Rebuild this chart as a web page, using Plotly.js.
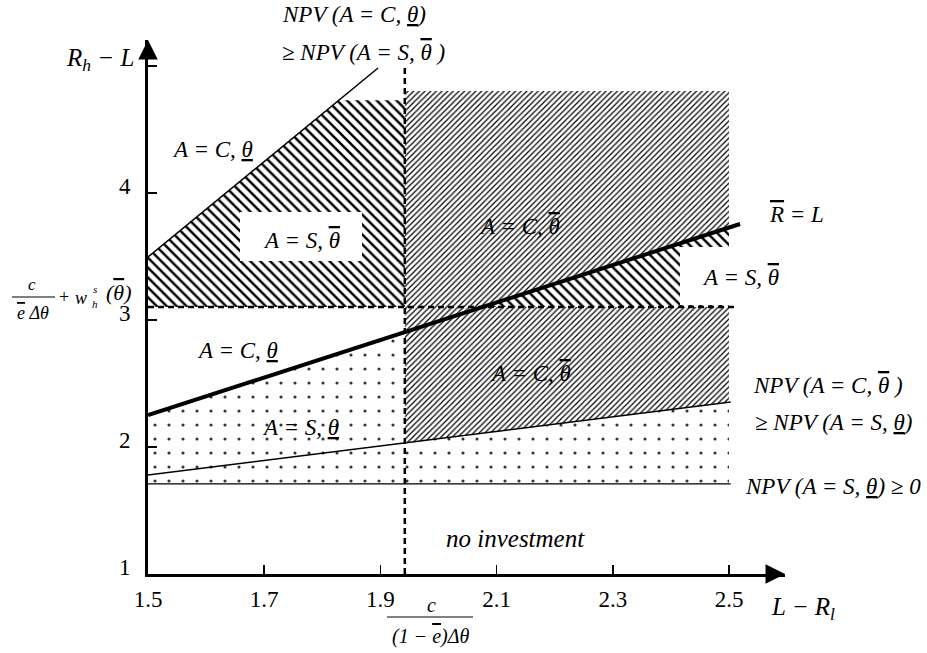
<!DOCTYPE html>
<html><head><meta charset="utf-8">
<script src="https://cdn.plot.ly/plotly-3.0.1.min.js"></script>
<style>html,body{margin:0;padding:0;background:#fff}</style>
</head><body>
<div id="chart" style="width:927px;height:653px"></div>
<script>
// ---- data ----
const xTicks = [1.5, 1.7, 1.9, 2.1, 2.3, 2.5];
const xTickText = ['1.5', '1.7', '1.9', '2.1', '2.3', '2.5'];
const yTicks = [1, 2, 3, 4, 5];
const yTickText = ['1', '2', '3', '4', ''];
// boundary lines
const rBarX = [1.5, 2.519];          // R̄ = L (thick)
const rBarY = [2.252, 3.756];
const npvCbarX = [1.5, 2.503];       // NPV(C,θ̄) ≥ NPV(S,θ̲)
const npvCbarY = [1.78, 2.354];
const npvS0X = [1.5, 2.503];         // NPV(S,θ̲) ≥ 0
const npvS0Y = [1.709, 1.709];
const npvCthX = [1.5, 1.896];        // NPV(C,θ̲) ≥ NPV(S,θ̄)
const npvCthY = [3.496, 4.984];
// thresholds
const xCut = [1.942];                // c/((1-ē)Δθ)
const yCut = [3.102];                // c/(ēΔθ)+w_h^s(θ̄)
const vDashTop = [4.984];
const hDashEnd = [2.514];
const regionRight = [2.5];
const fineTop = [4.803];
const coarseTop = [4.73];

// ---- helpers ----
function lin(xs, ys, x) { return ys[0] + (ys[1] - ys[0]) * (x - xs[0]) / (xs[1] - xs[0]); }
function invLin(xs, ys, y) { return xs[0] + (y - ys[0]) * (xs[1] - xs[0]) / (ys[1] - ys[0]); }
const xc = xCut[0], yc = yCut[0], xr = regionRight[0];

// regions
const fineX = [xc, xr, xr, xc];
const fineY = [fineTop[0], fineTop[0], lin(npvCbarX, npvCbarY, xr), lin(npvCbarX, npvCbarY, xc)];

const xTopLeft = invLin(npvCthX, npvCthY, coarseTop[0]);
const coarseLX = [npvCthX[0], npvCthX[0], xTopLeft, xc, xc];
const coarseLY = [yc, npvCthY[0], coarseTop[0], coarseTop[0], yc];

const xCross = invLin(rBarX, rBarY, yc);
const coarseRX = [xCross, xr, xr];
const coarseRY = [yc, lin(rBarX, rBarY, xr), yc];

const dotX = [rBarX[0], rBarX[0], xc, xc, xr, xr];
const dotY = [npvS0Y[0], rBarY[0], lin(rBarX, rBarY, xc), lin(npvCbarX, npvCbarY, xc), lin(npvCbarX, npvCbarY, xr), npvS0Y[0]];

// ---- geometry of plot area (pixels) ----
const L = 148, R = 785, T = 40, B = 574;
const xRange = [1.5, 1.5 + (R - L) / 581];
const yRange = [1, 1 + (B - T) / 127];
const px = p => (p - L) / (R - L);
const py = p => (B - p) / (B - T);

const traces = [
  {x: dotX, y: dotY, type: 'scatter', mode: 'lines', fill: 'toself', line: {width: 0},
   fillcolor: 'rgba(0,0,0,0)', fillpattern: {shape: '.', size: 14, solidity: 0.04, fgcolor: '#333', bgcolor: 'white'}, hoverinfo: 'skip'},
  {x: fineX, y: fineY, type: 'scatter', mode: 'lines', fill: 'toself', line: {width: 0},
   fillcolor: 'rgba(0,0,0,0)', fillpattern: {shape: '/', size: 4, solidity: 0.3, fgcolor: '#000', bgcolor: 'white'}, hoverinfo: 'skip'},
  {x: coarseLX, y: coarseLY, type: 'scatter', mode: 'lines', fill: 'toself', line: {width: 0},
   fillcolor: 'rgba(0,0,0,0)', fillpattern: {shape: '\\', size: 7, solidity: 0.35, fgcolor: '#000', bgcolor: 'white'}, hoverinfo: 'skip'},
  {x: coarseRX, y: coarseRY, type: 'scatter', mode: 'lines', fill: 'toself', line: {width: 0},
   fillcolor: 'rgba(0,0,0,0)', fillpattern: {shape: '\\', size: 7, solidity: 0.35, fgcolor: '#000', bgcolor: 'white'}, hoverinfo: 'skip'},
  {x: npvS0X, y: npvS0Y, type: 'scatter', mode: 'lines', line: {color: '#000', width: 1.3}},
  {x: npvCbarX, y: npvCbarY, type: 'scatter', mode: 'lines', line: {color: '#000', width: 1.5}},
  {x: npvCthX, y: npvCthY, type: 'scatter', mode: 'lines', line: {color: '#000', width: 1.5}},
  {x: [xc, xc], y: [yRange[0], vDashTop[0]], type: 'scatter', mode: 'lines', line: {color: '#000', width: 2.5, dash: '6px,4px'}},
  {x: [xRange[0], hDashEnd[0]], y: [yc, yc], type: 'scatter', mode: 'lines', line: {color: '#000', width: 2.5, dash: '6px,4px'}},
  {x: rBarX, y: rBarY, type: 'scatter', mode: 'lines', line: {color: '#000', width: 4}}
];

const F = '"Liberation Serif", "Times New Roman", serif';
const ul = t => '<span style="text-decoration:underline">' + t + '</span>';
const ol = t => '<span style="text-decoration:overline">' + t + '</span>';
const thU = ul('θ'), thO = ol('θ');

function lab(text, xp, yp, size, style) {
  return {text: text, xref: 'paper', yref: 'paper', x: px(xp), y: py(yp),
    xanchor: 'center', yanchor: 'middle', showarrow: false,
    font: {family: F, size: size || 23, color: '#000', style: style || 'italic'}};
}

const annotations = [
  lab('NPV (A = C, ' + thU + ')', 354, 14),
  lab('≥ NPV (A = S, ' + thO + ' )', 363, 52),
  lab('R<sub>h</sub> − L', 100, 60, 25),
  lab('A = C, ' + thU, 212, 150),
  lab('A = S, ' + thO, 301, 240),
  lab('A = C, ' + thO, 519, 227),
  lab(ol('R') + ' = L', 796, 214),
  lab('A = S, ' + thO, 740, 277),
  lab('A = C, ' + thU, 237, 350),
  lab('A = S, ' + thU, 300, 427),
  lab('A = C, ' + thO, 530, 373),
  lab('NPV (A = C, ' + thO + ' )', 828, 385),
  lab('≥ NPV (A = S, ' + thU + ')', 833, 422),
  lab('NPV (A = S, ' + thU + ') ≥ 0', 833, 487),
  lab('no investment', 515, 538, 25),
  lab('L − R<sub>l</sub>', 803, 608, 25),
  lab('c', 431, 605, 20),
  lab('(1 − ' + ol('e') + ')Δθ', 430, 636, 20),
  lab('c', 32, 284, 17),
  lab(ol('e') + ' Δθ', 33, 313, 18),
  lab('+', 64, 297, 18, 'normal'),
  lab('w', 81, 298, 18),
  lab('s', 95, 289, 11),
  lab('h', 95, 304, 11),
  lab('(' + thO + ')', 118, 292, 22),
  // axis arrow heads
  {xref: 'paper', yref: 'paper', x: 1, y: 0, axref: 'pixel', ayref: 'pixel', ax: -14, ay: 0,
   showarrow: true, arrowhead: 2, arrowsize: 1.3, arrowwidth: 3, arrowcolor: '#000', text: ''},
  {xref: 'paper', yref: 'paper', x: 0, y: 1, axref: 'pixel', ayref: 'pixel', ax: 0, ay: 14,
   showarrow: true, arrowhead: 2, arrowsize: 1.3, arrowwidth: 3, arrowcolor: '#000', text: ''}
];

const shapes = [
  {type: 'rect', xref: 'paper', yref: 'paper', x0: px(240), x1: px(362), y0: py(261), y1: py(212),
   fillcolor: '#fff', line: {width: 0}, layer: 'above'},
  {type: 'rect', xref: 'paper', yref: 'paper', x0: px(680), x1: px(735), y0: py(305), y1: py(247),
   fillcolor: '#fff', line: {width: 0}, layer: 'above'},
  {type: 'line', xref: 'paper', yref: 'paper', x0: px(387), x1: px(473), y0: py(617), y1: py(617),
   line: {color: '#000', width: 1}},
  {type: 'line', xref: 'paper', yref: 'paper', x0: px(12), x1: px(55), y0: py(297), y1: py(297),
   line: {color: '#000', width: 1}}
];

const tickFont = {family: F, size: 23, color: '#000'};
const layout = {
  width: 927, height: 653,
  margin: {l: L, r: 927 - R, t: T, b: 653 - B, pad: 0},
  paper_bgcolor: '#fff', plot_bgcolor: '#fff',
  showlegend: false,
  xaxis: {range: xRange, tickvals: xTicks, ticktext: xTickText, ticks: 'inside', ticklen: 9, tickwidth: 1.5,
    tickcolor: '#000', showline: true, linewidth: 3, linecolor: '#000', showgrid: false, zeroline: false,
    tickfont: tickFont, ticklabelstandoff: 2, fixedrange: true},
  yaxis: {range: yRange, tickvals: yTicks, ticktext: yTickText, ticks: 'inside', ticklen: 9, tickwidth: 1.5,
    tickcolor: '#000', showline: true, linewidth: 3, linecolor: '#000', showgrid: false, zeroline: false,
    tickfont: tickFont, ticklabelstandoff: 10, ticklabelshift: -7, fixedrange: true},
  annotations: annotations,
  shapes: shapes
};

Plotly.newPlot('chart', traces, layout, {displayModeBar: false, staticPlot: true});
</script>
</body></html>
